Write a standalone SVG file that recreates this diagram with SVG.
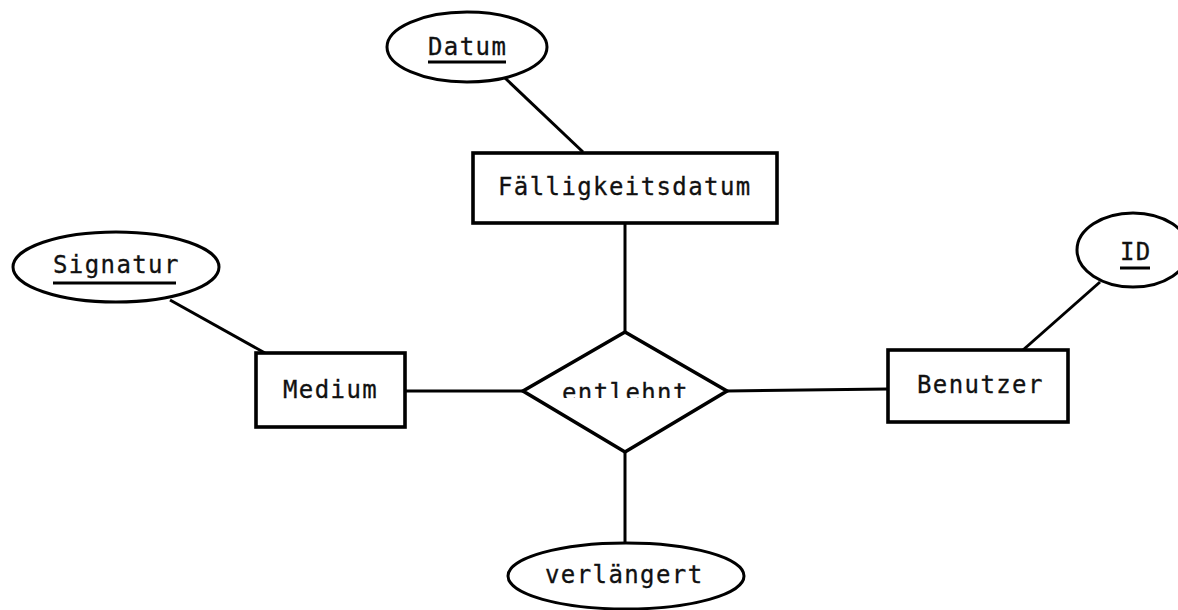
<svg xmlns="http://www.w3.org/2000/svg" width="1178" height="610" viewBox="0 0 1178 610">
<style>
.shape{fill:#fff;stroke:#000;stroke-width:3}
.box{fill:#fff;stroke:#000;stroke-width:3.6}
.line{stroke:#000;stroke-width:3;fill:none}
.t{font-family:"DejaVu Sans Mono","Liberation Mono",monospace;font-size:24px;letter-spacing:1.4px;fill:#111;stroke:#111;stroke-width:0.3}
.u{stroke:#000;stroke-width:3}
</style>
<defs>
<clipPath id="clipE"><rect x="520" y="330" width="210" height="68"/></clipPath>
</defs>
<g id="connectors">
<line class="line" x1="505" y1="78" x2="583" y2="152"/>
<line class="line" x1="625" y1="223" x2="625" y2="332"/>
<line class="line" x1="170" y1="300" x2="265" y2="353"/>
<line class="line" x1="405" y1="391" x2="523" y2="391"/>
<line class="line" x1="727" y1="391" x2="888" y2="389"/>
<line class="line" x1="1100" y1="282" x2="1023" y2="350"/>
<line class="line" x1="625" y1="452" x2="625" y2="543"/>
</g>
<g id="datum">
<ellipse class="shape" cx="467" cy="47" rx="80" ry="35"/>
<text class="t" x="428" y="55">Datum</text>
<line class="u" x1="428" y1="62" x2="506" y2="62"/>
</g>
<g id="faelligkeitsdatum">
<rect class="box" x="473" y="153" width="304" height="70"/>
<text class="t" x="498" y="195">Fälligkeitsdatum</text>
</g>
<g id="signatur">
<ellipse class="shape" cx="116" cy="267" rx="103" ry="35"/>
<text class="t" x="53" y="273">Signatur</text>
<line class="u" x1="53" y1="283" x2="176" y2="283"/>
</g>
<g id="medium">
<rect class="box" x="256" y="353" width="149" height="74"/>
<text class="t" x="283" y="398">Medium</text>
</g>
<g id="entlehnt">
<polygon class="box" points="625,332 727,391 625,452 523,391"/>
<text class="t" x="562" y="401" clip-path="url(#clipE)">entlehnt</text>
</g>
<g id="benutzer">
<rect class="box" x="888" y="350" width="180" height="72"/>
<text class="t" x="917" y="393">Benutzer</text>
</g>
<g id="id">
<ellipse class="shape" cx="1133" cy="250" rx="56" ry="37"/>
<text class="t" x="1120" y="260">ID</text>
<line class="u" x1="1120" y1="268" x2="1150" y2="268"/>
</g>
<g id="verlaengert">
<ellipse class="shape" cx="626" cy="576" rx="118" ry="33"/>
<text class="t" x="545" y="583">verlängert</text>
</g>
</svg>
